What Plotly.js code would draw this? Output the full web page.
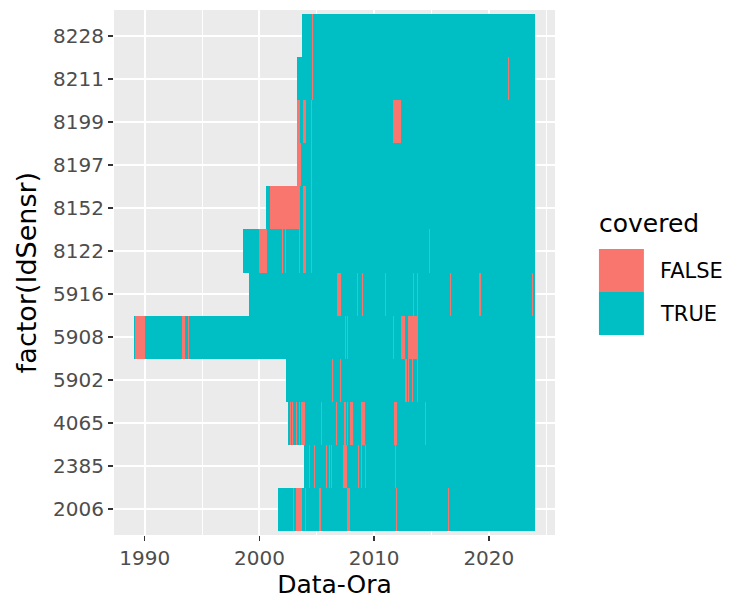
<!DOCTYPE html>
<html>
<head>
<meta charset="utf-8">
<script src="https://cdn.plot.ly/plotly-3.0.1.min.js"></script>
<style>html,body{margin:0;padding:0;background:#fff;}#chart{width:734px;height:599px;}</style>
</head>
<body>
<div id="chart"></div>
<script>
// Sensor categories, bottom to top
const sensors = ['2006','2385','4065','5902','5908','5916','8122','8152','8197','8199','8211','8228'];
// Observation span of each sensor (decimal years)
const spanStart = [2001.58, 2003.91, 2002.45, 2002.28, 1989.07, 1999.05, 1998.58, 2000.53, 2003.24, 2003.29, 2003.24, 2003.70];
const spanEnd   = [2024.02, 2024.02, 2024.02, 2024.02, 2024.02, 2024.02, 2024.02, 2024.02, 2024.02, 2024.02, 2024.02, 2024.02];

// Periods with covered == FALSE
const falseSensor = [
  '8228',
  '8211','8211',
  '8199','8199','8199','8199',
  '8197','8197',
  '8152','8152','8152',
  '8122','8122','8122','8122','8122','8122','8122','8122',
  '5916','5916','5916','5916','5916','5916','5916','5916','5916',
  '5908','5908','5908','5908','5908','5908','5908','5908','5908',
  '5902','5902','5902','5902','5902','5902',
  '4065','4065','4065','4065','4065','4065','4065','4065','4065','4065','4065','4065','4065','4065',
  '2385','2385','2385','2385','2385','2385','2385','2385','2385','2385',
  '2006','2006','2006','2006','2006','2006','2006'
];
const falseStart = [
  2004.56,
  2004.56, 2021.67,
  2003.29, 2003.82, 2004.53, 2011.67,
  2003.29, 2004.53,
  2000.94, 2003.82, 2004.53,
  1999.98, 2002.00, 2002.20, 2003.45, 2003.82, 2004.53, 2014.80, 2018.93,
  2006.79, 2008.54, 2008.98, 2010.96, 2013.43, 2013.72, 2016.60, 2019.15, 2023.79,
  1989.16, 1993.26, 1993.79, 1994.78, 2007.48, 2007.64, 2011.65, 2012.34, 2012.98,
  2006.30, 2007.06, 2012.72, 2012.95, 2013.28, 2013.74,
  2002.65, 2002.88, 2003.08, 2003.46, 2003.66, 2005.34, 2006.66, 2007.40, 2007.67, 2007.92, 2008.84, 2011.75, 2014.46, 2003.18,
  2004.33, 2005.84, 2006.04, 2006.22, 2007.31, 2008.60, 2008.89, 2009.18, 2011.80, 2004.78,
  2002.96, 2003.18, 2003.95, 2005.22, 2007.60, 2011.91, 2016.45
];
const falseEnd = [
  2004.64,
  2004.64, 2021.76,
  2003.53, 2004.05, 2004.61, 2012.37,
  2003.62, 2004.61,
  2003.53, 2004.05, 2004.61,
  2000.68, 2002.08, 2002.28, 2003.53, 2004.05, 2004.61, 2014.88, 2019.01,
  2007.08, 2008.62, 2009.06, 2011.04, 2013.51, 2013.80, 2016.68, 2019.30, 2023.87,
  1990.00, 1993.49, 1993.87, 1994.86, 2007.56, 2007.72, 2011.73, 2012.69, 2013.80,
  2006.38, 2007.14, 2012.84, 2013.03, 2013.36, 2013.82,
  2002.73, 2002.96, 2003.14, 2003.54, 2003.95, 2005.42, 2006.74, 2007.54, 2007.75, 2008.18, 2009.20, 2012.02, 2014.54, 2003.26,
  2004.41, 2005.92, 2006.12, 2006.30, 2007.66, 2008.68, 2008.97, 2009.26, 2011.88, 2004.86,
  2003.04, 2003.73, 2004.03, 2005.36, 2007.89, 2012.02, 2016.53
];

// Legend
const legendTitle = 'covered';
const legendLabels = ['FALSE', 'TRUE'];
const colFalse = '#F8766D';
const colTrue = '#00BFC4';

const traceTrue = {
  type: 'bar', orientation: 'h',
  y: sensors,
  base: spanStart,
  x: spanEnd.map((e, i) => e - spanStart[i]),
  width: 1,
  marker: {color: colTrue, line: {width: 0}},
  hoverinfo: 'skip', showlegend: false
};
const traceFalse = {
  type: 'bar', orientation: 'h',
  y: falseSensor,
  base: falseStart,
  x: falseEnd.map((e, i) => e - falseStart[i]),
  width: 1,
  marker: {color: colFalse, line: {width: 0}},
  hoverinfo: 'skip', showlegend: false
};

const allMin = Math.min(...spanStart), allMax = Math.max(...spanEnd);
const pad = (allMax - allMin) * 0.05;

const W = 734, H = 599;
const M = {l: 113.5, r: 179, t: 10, b: 64};
const pw = W - M.l - M.r, ph = H - M.t - M.b;
const px = x => (x - M.l) / pw;
const py = y => (H - M.b - y) / ph;

const FONT = 'DejaVu Sans, Liberation Sans, Arial, sans-serif';

const layout = {
  width: W, height: H,
  margin: M,
  paper_bgcolor: '#FFFFFF',
  plot_bgcolor: '#EBEBEB',
  barmode: 'overlay',
  bargap: 0,
  showlegend: false,
  font: {family: FONT, color: '#4D4D4D', size: 20},
  xaxis: {
    range: [allMin - pad, allMax + pad],
    tick0: 1990, dtick: 10,
    showgrid: true, gridcolor: '#FFFFFF', gridwidth: 2,
    minor: {dtick: 5, tick0: 1990, showgrid: true, gridcolor: '#FFFFFF', gridwidth: 1, ticks: ''},
    zeroline: false, showline: false,
    ticks: 'outside', ticklen: 5, tickwidth: 1.5, tickcolor: '#333333',
    tickfont: {family: FONT, size: 20, color: '#4D4D4D'},
    title: {text: 'Data-Ora', font: {family: FONT, size: 25, color: '#000000'}, standoff: 11},
    automargin: false, fixedrange: true
  },
  yaxis: {
    type: 'category',
    categoryorder: 'array', categoryarray: sensors,
    range: [-0.6, sensors.length - 0.4],
    showgrid: true, gridcolor: '#FFFFFF', gridwidth: 2,
    zeroline: false, showline: false,
    ticks: 'outside', ticklen: 5, tickwidth: 1.5, tickcolor: '#333333',
    tickfont: {family: FONT, size: 20, color: '#4D4D4D'},
    title: {text: 'factor(IdSensr)', font: {family: FONT, size: 27, color: '#000000'}, standoff: 8},
    automargin: false, fixedrange: true
  },
  shapes: [
    {type: 'rect', xref: 'paper', yref: 'paper', x0: px(599), x1: px(644), y0: py(292), y1: py(249),
     fillcolor: colFalse, line: {width: 0}},
    {type: 'rect', xref: 'paper', yref: 'paper', x0: px(599), x1: px(644), y0: py(335), y1: py(292),
     fillcolor: colTrue, line: {width: 0}}
  ],
  annotations: [
    {xref: 'paper', yref: 'paper', x: px(597), y: py(223), xanchor: 'left', yanchor: 'middle',
     text: legendTitle, showarrow: false, font: {family: FONT, size: 25, color: '#000000'}},
    {xref: 'paper', yref: 'paper', x: px(658), y: py(270.5), xanchor: 'left', yanchor: 'middle',
     text: legendLabels[0], showarrow: false, font: {family: FONT, size: 21, color: '#000000'}},
    {xref: 'paper', yref: 'paper', x: px(658), y: py(313.5), xanchor: 'left', yanchor: 'middle',
     text: legendLabels[1], showarrow: false, font: {family: FONT, size: 21, color: '#000000'}}
  ]
};

Plotly.newPlot('chart', [traceTrue, traceFalse], layout, {staticPlot: true, displayModeBar: false});
</script>
</body>
</html>
